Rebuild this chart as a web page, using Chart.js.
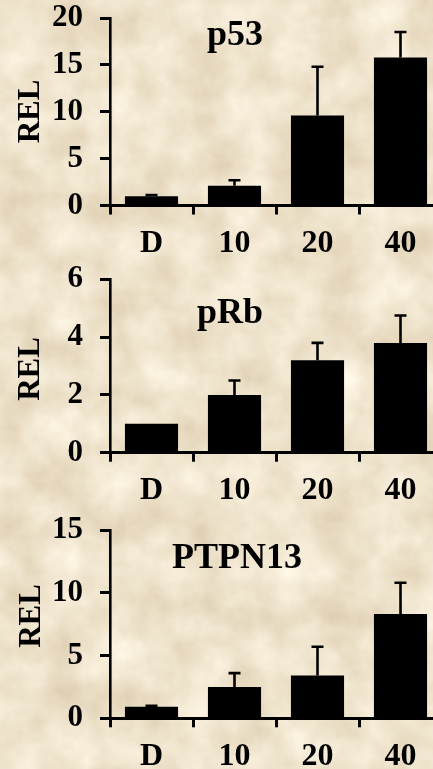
<!DOCTYPE html>
<html>
<head>
<meta charset="utf-8">
<script src="https://cdn.jsdelivr.net/npm/chart.js@4.4.1/dist/chart.umd.min.js"></script>
<style>
  html, body { margin: 0; padding: 0; }
  body {
    width: 433px; height: 769px; overflow: hidden; position: relative;
    background-color: #eee3cc;
  }
  .panel { position: absolute; left: 0; width: 433px; overflow: hidden; }
  .panel canvas { display: block; }
</style>
</head>
<body>
<div class="panel" style="top:0;height:260px"><canvas id="c1" width="455" height="260"></canvas></div>
<div class="panel" style="top:260px;height:250px"><canvas id="c2" width="455" height="250"></canvas></div>
<div class="panel" style="top:510px;height:259px"><canvas id="c3" width="455" height="259"></canvas></div>
<script>
// Treatment groups on the x axis
const categories = ['D', '10', '20', '40'];

// Relative expression (mean) and upper error (SEM) for each protein
const p53Values = [1.0, 2.1, 9.6, 15.8];
const p53Errors = [0.12, 0.6, 5.2, 2.7];

const pRbValues = [1.0, 2.0, 3.2, 3.8];
const pRbErrors = [0, 0.5, 0.6, 0.95];

const ptpn13Values = [0.92, 2.5, 3.4, 8.3];
const ptpn13Errors = [0.08, 1.1, 2.3, 2.5];

// Y-axis ranges and tick steps
const p53Axis = { max: 20, step: 5 };
const pRbAxis = { max: 6, step: 2 };
const ptpn13Axis = { max: 15, step: 5 };

const yTitle = 'REL';
const SERIF = '"Liberation Serif", "Times New Roman", Times, serif';

// Parchment-style backdrop built from SVG noise
(function () {
  const svg = "<svg xmlns='http://www.w3.org/2000/svg' width='433' height='769'>" +
    "<filter id='n' color-interpolation-filters='sRGB' x='0' y='0' width='100%' height='100%'>" +
    "<feTurbulence type='fractalNoise' baseFrequency='0.022' numOctaves='4' seed='23'/>" +
    "<feColorMatrix type='matrix' values='0.15 0 0 0 0.86  0.19 0 0 0 0.795  0.25 0 0 0 0.675  0 0 0 0 1'/>" +
    "</filter><rect width='100%' height='100%' filter='url(#n)'/></svg>";
  document.body.style.backgroundImage = 'url("data:image/svg+xml,' + encodeURIComponent(svg) + '")';
})();

// Upward error bars drawn from each bar's value through the value scale
const errorBars = {
  id: 'errorBars',
  afterDatasetsDraw(chart, args, opts) {
    const errs = opts.errors || [];
    const ctx = chart.ctx;
    const yScale = chart.scales.y;
    const meta = chart.getDatasetMeta(0);
    const values = chart.data.datasets[0].data;
    ctx.save();
    ctx.strokeStyle = '#000';
    ctx.lineWidth = 2.6;
    meta.data.forEach((bar, i) => {
      const e = errs[i];
      if (!e) return;
      const yBase = yScale.getPixelForValue(values[i]);
      const yTop = yScale.getPixelForValue(values[i] + e);
      ctx.beginPath();
      ctx.moveTo(bar.x, yBase);
      ctx.lineTo(bar.x, yTop);
      ctx.moveTo(bar.x - 6, yTop);
      ctx.lineTo(bar.x + 6, yTop);
      ctx.stroke();
    });
    ctx.restore();
  }
};

// Panel heading and rotated axis caption
const panelText = {
  id: 'panelText',
  afterDraw(chart, args, opts) {
    const ctx = chart.ctx;
    ctx.save();
    ctx.fillStyle = '#000';
    ctx.font = 'bold 36px ' + SERIF;
    ctx.textAlign = 'center';
    ctx.textBaseline = 'alphabetic';
    ctx.fillText(opts.title, opts.titleX, opts.titleY);
    ctx.translate(opts.labelX, opts.labelY);
    ctx.rotate(-Math.PI / 2);
    ctx.font = 'bold 31px ' + SERIF;
    ctx.textBaseline = 'middle';
    ctx.fillText(yTitle, 0, 0);
    ctx.restore();
  }
};

function makePanel(id, values, errors, axis, geom, text) {
  const canvas = document.getElementById(id);
  const H = canvas.height;
  return new Chart(canvas, {
    type: 'bar',
    data: {
      labels: categories,
      datasets: [{
        data: values,
        backgroundColor: '#000',
        borderWidth: 0,
        barPercentage: 0.64,
        categoryPercentage: 1.0
      }]
    },
    plugins: [errorBars, panelText],
    options: {
      responsive: false,
      animation: false,
      devicePixelRatio: 1,
      layout: { padding: { top: geom.top, right: 13, bottom: 0, left: 0 } },
      plugins: {
        legend: { display: false },
        tooltip: { enabled: false },
        title: { display: false },
        errorBars: { errors: errors },
        panelText: text
      },
      scales: {
        x: {
          grid: { offset: true, drawOnChartArea: false, drawTicks: true, tickLength: 9, tickWidth: 3, tickColor: '#000' },
          border: { display: true, color: '#000', width: 3 },
          ticks: {
            color: '#000', padding: 10, maxRotation: 0, autoSkip: false,
            font: { family: SERIF, size: 32, weight: 'bold' }
          },
          afterFit(scale) {
            scale.height = H - geom.bottom;
            scale.paddingLeft = 0;
            scale.paddingRight = 0;
          }
        },
        y: {
          min: 0, max: axis.max,
          grid: { drawOnChartArea: false, drawTicks: true, tickLength: 10, tickWidth: 3, tickColor: '#000' },
          border: { display: true, color: '#000', width: 2.6 },
          ticks: {
            stepSize: axis.step, color: '#000', padding: 17,
            font: { family: SERIF, size: 31, weight: 'bold' }
          },
          afterFit(scale) {
            scale.width = 110;
            scale.paddingTop = 0;
            scale.paddingBottom = 0;
          }
        }
      }
    }
  });
}

makePanel('c1', p53Values, p53Errors, p53Axis,
  { top: 18, bottom: 205.5 },
  { title: 'p53', titleX: 235, titleY: 45, labelX: 31, labelY: 111.5 });

makePanel('c2', pRbValues, pRbErrors, pRbAxis,
  { top: 19.3, bottom: 192.7 },
  { title: 'pRb', titleX: 230, titleY: 63, labelX: 31, labelY: 109 });

makePanel('c3', ptpn13Values, ptpn13Errors, ptpn13Axis,
  { top: 20, bottom: 208.3 },
  { title: 'PTPN13', titleX: 237, titleY: 58, labelX: 32, labelY: 106 });
</script>
</body>
</html>
